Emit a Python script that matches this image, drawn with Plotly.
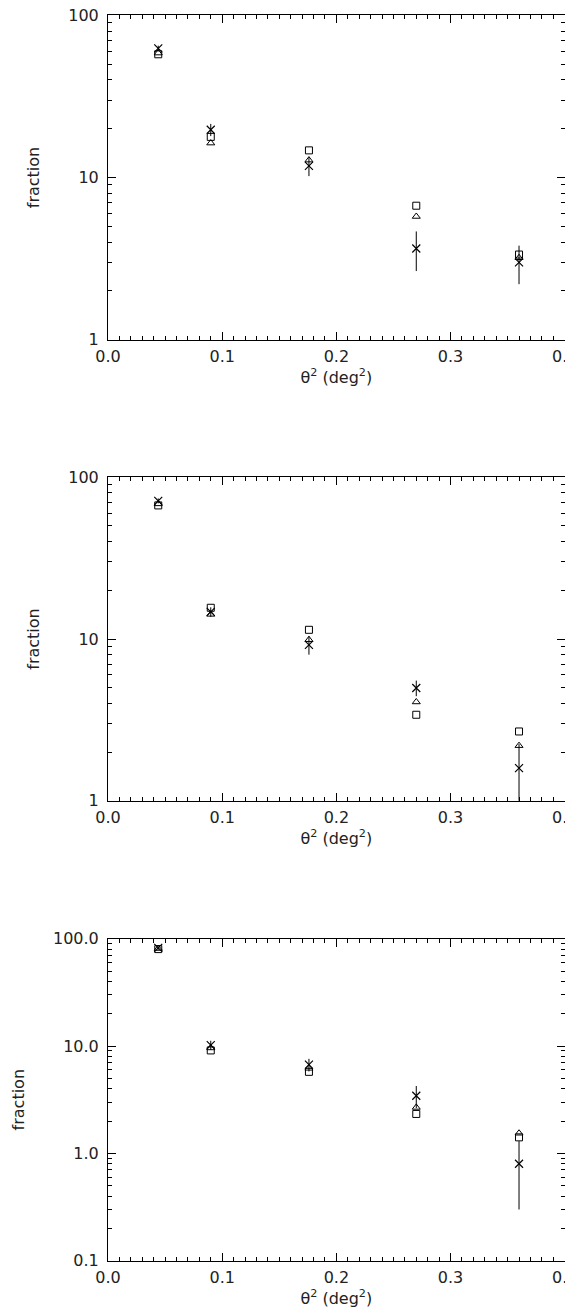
import plotly.graph_objects as go

x_theta2 = [0.044, 0.09, 0.176, 0.27, 0.36]

# Panel 1 (top)
sq1 = [57.5, 17.8, 14.7, 6.7, 3.35]
tri1 = [58.5, 16.3, 12.8, 5.75, 3.2]
cr1 = [62.5, 19.7, 11.8, 3.65, 3.0]
err1 = [2.5, 1.7, 1.6, 1.0, 0.8]

# Panel 2 (middle)
sq2 = [67.0, 15.6, 11.4, 3.4, 2.68]
tri2 = [68.5, 14.2, 9.9, 4.08, 2.19]
cr2 = [71.5, 14.7, 9.2, 4.98, 1.59]
err2 = [2.5, 1.0, 1.2, 0.55, 0.65]

# Panel 3 (bottom)
sq3 = [80.0, 9.1, 5.75, 2.33, 1.41]
tri3 = [81.0, 9.6, 6.2, 2.68, 1.54]
cr3 = [82.0, 10.2, 6.7, 3.44, 0.80]
err3 = [3.0, 1.0, 0.9, 0.8, 0.5]

x_ticks = [0.0, 0.1, 0.2, 0.3, 0.4]
x_text = ["0.0", "0.1", "0.2", "0.3", "0.4"]
y_ticks_12 = [1, 10, 100]
y_text_12 = ["1", "10", "100"]
y_ticks_3 = [0.1, 1, 10, 100]
y_text_3 = ["0.1", "1.0", "10.0", "100.0"]

FONT = dict(family="DejaVu Sans", size=16, color="#222222")
W, H = 573, 1311
xdom = [100 / W, 556.7 / W]
ydoms = [
    [1 - 331.7 / H, 1 - 7.3 / H],
    [1 - 792.7 / H, 1 - 469.3 / H],
    [1 - 1252.7 / H, 1 - 930.7 / H],
]

panels = [
    (sq1, tri1, cr1, err1, [0, 2], y_ticks_12, y_text_12),
    (sq2, tri2, cr2, err2, [0, 2], y_ticks_12, y_text_12),
    (sq3, tri3, cr3, err3, [-1, 2], y_ticks_3, y_text_3),
]

fig = go.Figure()
layout = {}
for i, (sq, tri, cr, err, yr, yt, ytt) in enumerate(panels):
    n = "" if i == 0 else str(i + 1)
    xa, ya = "x" + n, "y" + n
    fig.add_trace(go.Scatter(
        x=x_theta2, y=sq, mode="markers", xaxis=xa, yaxis=ya,
        marker=dict(symbol="square-open", size=7, color="black", line=dict(width=1, color="black")),
        showlegend=False))
    fig.add_trace(go.Scatter(
        x=x_theta2, y=tri, mode="markers", xaxis=xa, yaxis=ya,
        marker=dict(symbol="triangle-up-open", size=7, color="black", line=dict(width=1, color="black")),
        showlegend=False))
    fig.add_trace(go.Scatter(
        x=x_theta2, y=cr, mode="markers", xaxis=xa, yaxis=ya,
        marker=dict(symbol="x-thin-open", size=8, color="black", line=dict(width=1.2, color="black")),
        error_y=dict(type="data", array=err, arrayminus=err, symmetric=False,
                     width=0, thickness=1, color="black"),
        showlegend=False))
    layout["xaxis" + n] = dict(
        domain=xdom, anchor=ya, range=[0, 0.4], tickvals=x_ticks, ticktext=x_text,
        ticks="inside", ticklen=8, tickwidth=1, tickcolor="black",
        mirror="allticks", showline=True, linecolor="black", linewidth=1,
        showgrid=False, zeroline=False, automargin=False,
        ticklabelstandoff=2, ticklabeloverflow="allow",
        minor=dict(dtick=0.01, ticks="inside", ticklen=4, tickwidth=1, tickcolor="black", showgrid=False),
        tickfont=FONT,
        title=dict(text="θ<sup>2</sup> (deg<sup>2</sup>)", font=FONT, standoff=0),
    )
    layout["yaxis" + n] = dict(
        domain=ydoms[i], anchor=xa, type="log", range=yr,
        tickvals=yt, ticktext=ytt,
        ticks="inside", ticklen=8, tickwidth=1, tickcolor="black",
        mirror="allticks", showline=True, linecolor="black", linewidth=1,
        showgrid=False, zeroline=False, automargin=False,
        ticklabelstandoff=5, ticklabeloverflow="allow",
        minor=dict(dtick="D1", ticks="inside", ticklen=4, tickwidth=1, tickcolor="black", showgrid=False),
        tickfont=FONT,
        title=dict(text="fraction", font=FONT, standoff=24),
    )

fig.update_layout(
    width=W, height=H, margin=dict(l=0, r=0, t=0, b=0),
    paper_bgcolor="white", plot_bgcolor="white", font=FONT,
    **layout,
)
fig.write_html("out.html")
